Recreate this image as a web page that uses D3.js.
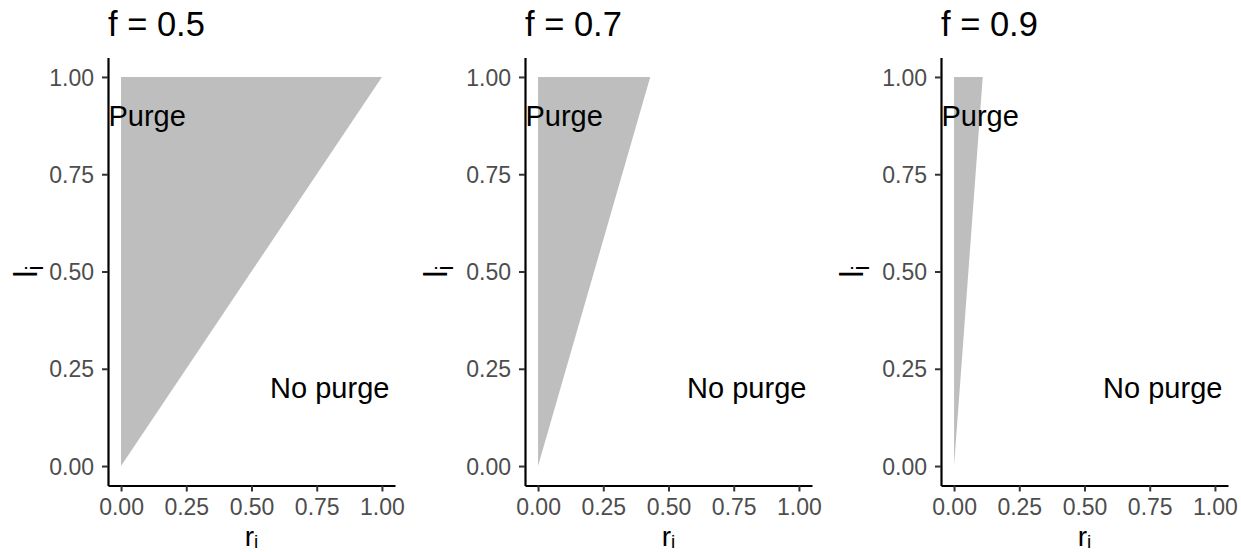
<!DOCTYPE html>
<html>
<head>
<meta charset="utf-8">
<script src="https://cdn.jsdelivr.net/npm/d3@7"></script>
<style>
  body { margin: 0; background: #fff; }
  svg { display: block; }
  text { font-family: "Liberation Sans", Arial, sans-serif; }
</style>
</head>
<body>
<svg id="chart" width="1241" height="552"></svg>
<script>
// ---- data ----
const panelTitles = ["f = 0.5", "f = 0.7", "f = 0.9"];
const fValues = [0.5, 0.7, 0.9];
// r at which the purge region reaches l = 1
const topR = [1.00, 0.43, 0.11];
const tickValues = [0, 0.25, 0.5, 0.75, 1];
const purgeLabel = { text: "Purge", r: 0.10, l: 0.90 };
const noPurgeLabel = { text: "No purge", r: 0.80, l: 0.20 };

// ---- layout ----
const svg = d3.select("#chart");
const panelLeft = [108, 525, 941];
const panelWidth = 287;
const panelTop = 57.5, panelBottom = 485.5;
const yTitleX = [37, 447, 863];

fValues.forEach((f, i) => {
  const x0 = panelLeft[i];
  const x = d3.scaleLinear().domain([-0.05, 1.05]).range([x0, x0 + panelWidth]);
  const y = d3.scaleLinear().domain([-0.05, 1.05]).range([panelBottom, panelTop]);
  const g = svg.append("g");

  // purge region polygon
  const poly = [[0, 0], [0, 1], [topR[i], 1]];
  g.append("path")
    .attr("d", d3.line().x(d => x(d[0])).y(d => y(d[1]))(poly) + "Z")
    .attr("fill", "#BEBEBE");

  // axes
  const fmt = d3.format(".2f");
  const ax = g.append("g").attr("transform", `translate(0,${panelBottom})`)
    .call(d3.axisBottom(x).tickValues(tickValues).tickFormat(fmt).tickSize(6).tickSizeOuter(0).tickPadding(7.5));
  const ay = g.append("g").attr("transform", `translate(${x0},0)`)
    .call(d3.axisLeft(y).tickValues(tickValues).tickFormat(fmt).tickSize(6).tickSizeOuter(0).tickPadding(8));
  [ax, ay].forEach(a => {
    a.select(".domain").attr("stroke", "#000").attr("stroke-width", 2.2);
    a.selectAll(".tick line").attr("stroke", "#333").attr("stroke-width", 2);
    a.selectAll(".tick text").attr("fill", "#4D4D4D").style("font-size", "23px")
      .style("font-family", '"Liberation Sans", Arial, sans-serif');
  });
  ay.selectAll(".tick text").attr("dy", "0.35em");
  ax.selectAll(".tick text").attr("dy", "0.71em");

  // annotations
  g.append("text").attr("x", x(purgeLabel.r)).attr("y", y(purgeLabel.l))
    .attr("text-anchor", "middle").attr("dy", "0.35em")
    .style("font-size", "29px").text(purgeLabel.text);
  g.append("text").attr("x", x(noPurgeLabel.r)).attr("y", y(noPurgeLabel.l))
    .attr("text-anchor", "middle").attr("dy", "0.35em")
    .style("font-size", "29px").text(noPurgeLabel.text);

  // title
  g.append("text").attr("x", x0).attr("y", 36)
    .style("font-size", "34.5px").text(panelTitles[i]);

  // x-axis title r_i
  const xt = g.append("text").attr("x", x(0.5)).attr("y", 546)
    .attr("text-anchor", "middle").style("font-size", "28px");
  xt.append("tspan").text("r");
  xt.append("tspan").attr("dy", 2).style("font-size", "19px").text("i");

  // y-axis title l_i
  const yt = g.append("text")
    .attr("transform", `translate(${yTitleX[i]},${y(0.5)}) rotate(-90)`)
    .attr("text-anchor", "middle").style("font-size", "33px");
  yt.append("tspan").text("l");
  yt.append("tspan").attr("baseline-shift", "-25%").style("font-size", "23px").text("i");
});
</script>
</body>
</html>
